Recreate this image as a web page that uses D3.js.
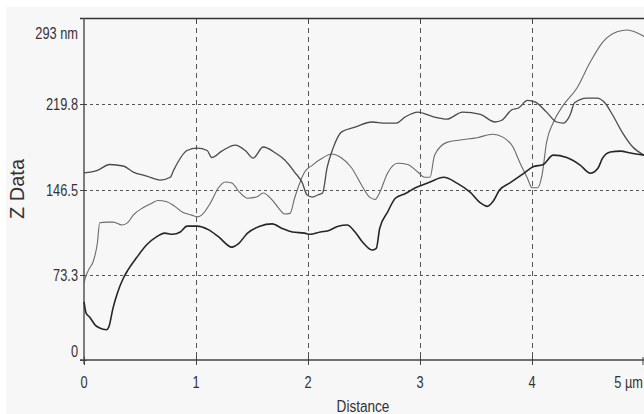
<!DOCTYPE html>
<html>
<head>
<meta charset="utf-8">
<script src="https://cdn.jsdelivr.net/npm/d3@7"></script>
<style>
  body { margin: 0; background: #ffffff; }
  svg { display: block; }
  text { font-family: "Liberation Sans Narrow", "Arial Narrow", "Liberation Sans", sans-serif; fill: #333; }
</style>
</head>
<body>
<svg id="chart" width="644" height="414"></svg>
<script>
// profile traces, [distance µm, z nm]
var profileDark = [[0,50],[0.02,40],[0.05,37],[0.10,30],[0.14,27.5],[0.20,26],[0.22,28],[0.26,45],[0.30,58],[0.35,70],[0.39,77],[0.47,88],[0.56,99],[0.65,106],[0.72,109],[0.79,108],[0.86,110],[0.92,115],[1.01,115],[1.11,112],[1.20,106],[1.32,97],[1.38,100],[1.46,109],[1.57,115],[1.68,117],[1.77,113],[1.86,110],[1.97,109],[2.02,108],[2.11,110],[2.18,111],[2.27,115],[2.35,116],[2.42,110],[2.49,101],[2.57,94.5],[2.61,96],[2.64,113],[2.71,127],[2.78,139],[2.87,143],[2.96,148],[3.01,150],[3.09,153],[3.21,157],[3.33,152],[3.45,144],[3.54,135],[3.60,132],[3.65,136],[3.71,146],[3.80,152],[3.92,160],[4.01,166],[4.10,168],[4.19,176],[4.31,174],[4.43,167.5],[4.52,160.5],[4.59,165],[4.63,173.5],[4.70,178.7],[4.79,179.5],[4.88,177.8],[5.0,176]];

var profileMid = [[0,66],[0.01,70],[0.05,79],[0.08,84],[0.12,101],[0.14,118],[0.21,118.5],[0.26,118.5],[0.34,116],[0.39,118],[0.44,124.5],[0.53,131],[0.61,135],[0.66,137],[0.74,136],[0.81,132],[0.88,127],[0.96,124.5],[1.01,123],[1.05,124.5],[1.13,135],[1.20,148],[1.26,153],[1.32,152],[1.39,144],[1.46,139],[1.54,140],[1.60,143.5],[1.68,137.5],[1.75,129],[1.79,125.5],[1.84,126],[1.88,139],[1.93,153],[1.97,161.5],[2.04,167.5],[2.13,173.5],[2.21,177],[2.30,173.5],[2.39,165],[2.48,150],[2.55,140],[2.60,138],[2.64,144],[2.71,160.5],[2.80,169],[2.89,168],[2.98,161.5],[3.04,157],[3.09,157],[3.13,176],[3.24,187],[3.36,189],[3.51,191],[3.65,194],[3.74,191.5],[3.83,183],[3.89,170],[3.96,156],[4.00,148],[4.05,148],[4.09,159],[4.13,187],[4.19,204],[4.28,219],[4.40,233.5],[4.52,256],[4.63,273],[4.76,282],[4.85,283.5],[4.94,281],[5.0,278]];

var profileTop = [[0,160.7],[0.12,163],[0.23,168],[0.35,166.7],[0.44,161.5],[0.56,158],[0.68,154.6],[0.77,157],[0.80,163],[0.92,180],[1.01,182],[1.10,180],[1.14,174],[1.23,179.5],[1.35,184.7],[1.44,180],[1.51,173.5],[1.60,183],[1.71,177.8],[1.79,172],[1.88,161.5],[1.95,152],[1.99,142],[2.04,140],[2.09,142],[2.13,143.5],[2.17,165],[2.22,181],[2.30,196],[2.42,200],[2.57,204.5],[2.69,203.6],[2.79,203.6],[2.87,209],[2.98,213],[3.12,209],[3.24,207],[3.38,213],[3.54,211],[3.67,204.5],[3.73,206],[3.82,215],[3.88,216.5],[3.96,223],[4.03,221.6],[4.13,213],[4.22,204.5],[4.28,203.6],[4.34,210.5],[4.38,221],[4.49,225],[4.58,225],[4.65,221],[4.72,210.5],[4.81,195],[4.90,183],[5.0,176]];

var xTicks = [0, 1, 2, 3, 4, 5];
var xTickLabels = ["0", "1", "2", "3", "4", "5 µm"];
var yTicks = [0, 73.3, 146.5, 219.8, 293];
var yTickLabels = ["0", "73.3", "146.5", "219.8", "293 nm"];

var svg = d3.select("#chart");
var plotLeft = 84, plotRight = 644, plotTop = 19, plotBottom = 360;
var squeeze = 0.8; // narrow look of the original font

svg.append("rect")
    .attr("x", 6).attr("y", 7)
    .attr("width", 644 - 6).attr("height", 414 - 7)
    .style("fill", "#f7f7f7");

var x = d3.scaleLinear().domain([0, 5]).range([plotLeft, plotRight]);
var y = d3.scaleLinear().domain([0, 293]).range([plotBottom, plotTop]);

// dashed grid
svg.selectAll(".vgrid")
    .data(xTicks.slice(1, -1))
    .enter()
    .append("line")
    .attr("class", "vgrid")
    .attr("x1", d => Math.round(x(d)) + 0.5).attr("x2", d => Math.round(x(d)) + 0.5)
    .attr("y1", plotTop).attr("y2", plotBottom)
    .style("stroke", "#555")
    .style("stroke-width", 1)
    .style("stroke-dasharray", "5,4");

svg.selectAll(".hgrid")
    .data(yTicks.slice(1, -1))
    .enter()
    .append("line")
    .attr("class", "hgrid")
    .attr("x1", plotLeft).attr("x2", plotRight)
    .attr("y1", d => Math.round(y(d)) + 0.5).attr("y2", d => Math.round(y(d)) + 0.5)
    .style("stroke", "#555")
    .style("stroke-width", 1)
    .style("stroke-dasharray", "3,3");

// frame lines
svg.append("line")
    .attr("x1", plotLeft - 4).attr("x2", plotRight).attr("y1", plotTop - 0.5).attr("y2", plotTop - 0.5)
    .style("stroke", "#333").style("stroke-width", 1.5);
svg.append("line")
    .attr("x1", plotLeft).attr("x2", plotLeft).attr("y1", plotTop - 1).attr("y2", plotBottom + 4)
    .style("stroke", "#555").style("stroke-width", 1.5);
svg.append("line")
    .attr("x1", plotLeft - 4).attr("x2", plotRight).attr("y1", plotBottom).attr("y2", plotBottom)
    .style("stroke", "#444").style("stroke-width", 1.5);

// ticks
svg.selectAll(".xtick")
    .data(xTicks)
    .enter()
    .append("line")
    .attr("x1", d => Math.min(Math.round(x(d)) + 0.5, plotRight - 1)).attr("x2", d => Math.min(Math.round(x(d)) + 0.5, plotRight - 1))
    .attr("y1", plotBottom - 3).attr("y2", plotBottom + 5)
    .style("stroke", "#444");

svg.selectAll(".xtick-top")
    .data(xTicks.slice(1, -1))
    .enter()
    .append("line")
    .attr("x1", d => Math.round(x(d)) + 0.5).attr("x2", d => Math.round(x(d)) + 0.5)
    .attr("y1", plotTop).attr("y2", plotTop + 4)
    .style("stroke", "#444");

svg.selectAll(".ytick")
    .data(yTicks.slice(0, -1))
    .enter()
    .append("line")
    .attr("x1", plotLeft - 4).attr("x2", plotLeft + 3)
    .attr("y1", d => Math.round(y(d)) + 0.5).attr("y2", d => Math.round(y(d)) + 0.5)
    .style("stroke", "#444");

// tick labels
svg.selectAll(".xlabel")
    .data(xTicks)
    .enter()
    .append("text")
    .attr("transform", function(d, i) {
        var px = i == xTicks.length - 1 ? plotRight - 1 : x(d);
        return "translate(" + px + "," + (plotBottom + 28) + ") scale(" + squeeze + ",1)";
    })
    .attr("text-anchor", (d, i) => i == xTicks.length - 1 ? "end" : "middle")
    .style("font-size", "16px")
    .text((d, i) => xTickLabels[i]);

svg.selectAll(".ylabel")
    .data(yTicks)
    .enter()
    .append("text")
    .attr("transform", function(d, i) {
        var py = y(d) + 6;
        if (i == 0) py = y(d) - 3;
        if (i == yTicks.length - 1) py = y(d) + 20;
        return "translate(" + (plotLeft - 6) + "," + py + ") scale(" + squeeze + ",1)";
    })
    .attr("text-anchor", "end")
    .style("font-size", "16px")
    .text((d, i) => yTickLabels[i]);

// axis titles
svg.append("text")
    .attr("transform", "translate(363, 412) scale(" + squeeze + ",1)")
    .attr("text-anchor", "middle")
    .style("font-size", "17px")
    .text("Distance");

svg.append("text")
    .attr("transform", "translate(24, 189) rotate(-90)")
    .attr("text-anchor", "middle")
    .style("font-size", "20px")
    .text("Z Data");

// traces
var line = d3.line()
    .x(d => x(d[0]))
    .y(d => y(d[1]))
    .curve(d3.curveMonotoneX);

var plot = svg.append("g");

plot.append("path")
    .datum(profileMid)
    .attr("d", line)
    .style("fill", "none")
    .style("stroke", "#6a6a6a")
    .style("stroke-width", 1.1);

plot.append("path")
    .datum(profileTop)
    .attr("d", line)
    .style("fill", "none")
    .style("stroke", "#4a4a4a")
    .style("stroke-width", 1.3);

plot.append("path")
    .datum(profileDark)
    .attr("d", line)
    .style("fill", "none")
    .style("stroke", "#262626")
    .style("stroke-width", 1.6);
</script>
</body>
</html>
